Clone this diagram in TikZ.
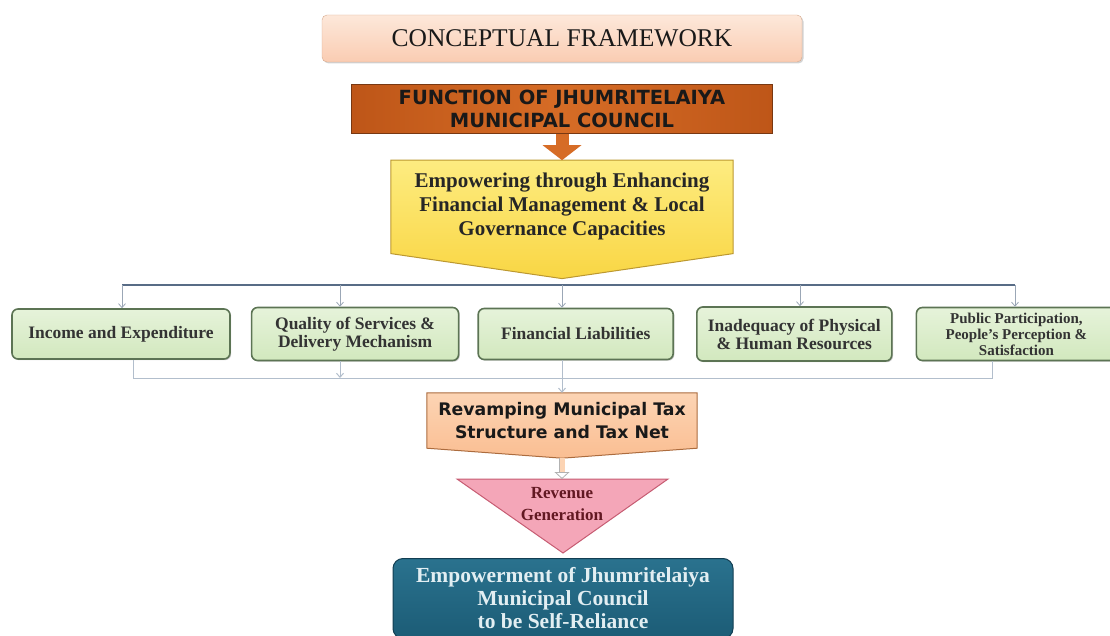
\documentclass[tikz,border=0pt]{standalone}
\usepackage{fontspec}
\setmainfont{Liberation Serif}
\setsansfont{DejaVu Sans}
\usepackage{xcolor}
\definecolor{colPeach}{RGB}{250, 204, 178}
\definecolor{colPeachLight}{RGB}{253, 232, 218}
\definecolor{colPeachBorder}{RGB}{214, 170, 142}
\definecolor{colOrange}{RGB}{214, 108, 38}
\definecolor{colOrangeDark}{RGB}{190, 86, 24}
\definecolor{colOrangeBorder}{RGB}{120, 56, 18}
\definecolor{colYellow}{RGB}{249, 214, 68}
\definecolor{colYellowLight}{RGB}{253, 236, 128}
\definecolor{colYellowBorder}{RGB}{188, 152, 48}
\definecolor{colGreen}{RGB}{210, 232, 190}
\definecolor{colGreenLight}{RGB}{230, 243, 218}
\definecolor{colGreenBorder}{RGB}{92, 116, 84}
\definecolor{colTax}{RGB}{250, 190, 146}
\definecolor{colTaxLight}{RGB}{252, 212, 180}
\definecolor{colTaxBorder}{RGB}{172, 108, 62}
\definecolor{colPink}{RGB}{244, 166, 184}
\definecolor{colPinkBorder}{RGB}{198, 92, 114}
\definecolor{colMaroon}{RGB}{98, 24, 34}
\definecolor{colTeal}{RGB}{28, 92, 118}
\definecolor{colTealLight}{RGB}{42, 114, 142}
\definecolor{colTealBorder}{RGB}{18, 62, 82}
\definecolor{colTealText}{RGB}{226, 238, 242}
\definecolor{colBus}{RGB}{88, 108, 134}
\definecolor{colLink}{RGB}{178, 190, 204}
\usepackage{tikz}
\usetikzlibrary{positioning, arrows.meta, backgrounds, calc, shadows}

\begin{document}
\begin{tikzpicture}[x=1pt, y=1pt,
		title/.style={rectangle, rounded corners=5pt, draw=colPeachBorder,
			top color=colPeachLight, bottom color=colPeach,
			minimum width=480pt, minimum height=47pt, text=black!90,
			font=\fontsize{25.5}{28}\selectfont,
			drop shadow={shadow xshift=1.5pt, shadow yshift=-1.5pt, opacity=0.35}},
		func/.style={rectangle, draw=colOrangeBorder, line width=1pt,
			left color=colOrangeDark, right color=colOrangeDark, middle color=colOrange,
			minimum width=421pt, minimum height=49pt, align=center, text=black!90,
			font=\sffamily\bfseries\fontsize{19.5}{23}\selectfont},
		hub/.style={minimum width=342pt, minimum height=93pt, align=center,
			text=black!85, font=\bfseries\fontsize{21}{24}\selectfont},
		hubshape/.style={draw=colYellowBorder, line width=1pt,
			top color=colYellowLight, bottom color=colYellow},
		factor/.style={rectangle, rounded corners=6pt, draw=colGreenBorder, line width=1.6pt,
			top color=colGreenLight, bottom color=colGreen, align=center, text=black!80,
			font=\bfseries\fontsize{17.5}{18}\selectfont,
			drop shadow={shadow xshift=1.2pt, shadow yshift=-1.2pt, opacity=0.4}},
		tax/.style={minimum width=270pt, minimum height=55pt, align=center,
			text=black!90, font=\sffamily\bfseries\fontsize{17.3}{23}\selectfont},
		taxshape/.style={draw=colTaxBorder, line width=1pt,
			top color=colTaxLight, bottom color=colTax},
		revshape/.style={draw=colPinkBorder, line width=1pt, fill=colPink},
		revtext/.style={align=center, text=colMaroon,
			font=\bfseries\fontsize{17}{22}\selectfont},
		goal/.style={rectangle, rounded corners=10pt, draw=colTealBorder, line width=1pt,
			top color=colTealLight, bottom color=colTeal,
			minimum width=340pt, minimum height=80pt, align=center, text=colTealText,
			font=\bfseries\fontsize{21.5}{23}\selectfont},
		arr/.style={line width=13pt, colOrange, -{Triangle[width=38pt, length=15pt]}},
		bus/.style={line width=1.2pt, colBus},
		drop/.style={line width=0.8pt, colBus!60, -{Straight Barb[length=4pt, width=7pt]}},
		link/.style={line width=1pt, colLink},
		hollow/.style={draw=gray!60, line width=0.8pt, double=colTaxLight, double distance=5pt,
			-{Triangle[open, length=7pt, width=15pt]}}
		]
		\useasboundingbox (0,0) rectangle (1110,-636);

		% top of the chart
		\node[title] (title) at (562,-38.5) {CONCEPTUAL FRAMEWORK};
		\node[func, below=22pt of title] (func)
		{FUNCTION OF JHUMRITELAIYA\\MUNICIPAL COUNCIL};
		\node[hub, below=26pt of func] (hub)
		{Empowering through Enhancing\\Financial Management \& Local\\Governance Capacities};
		\coordinate[below=25pt of hub.south] (hubtip);

		% the five factors
		\node[factor, minimum width=218pt, minimum height=50pt] (inc) at (121,-334)
		{Income and Expenditure};
		\node[factor, minimum width=207pt, minimum height=53pt, right=20pt of inc] (qual)
		{Quality of Services \&\\Delivery Mechanism};
		\node[factor, minimum width=195pt, minimum height=51pt, right=18pt of qual] (fin)
		{Financial Liabilities};
		\node[factor, minimum width=195pt, minimum height=54pt, right=22pt of fin] (inad)
		{Inadequacy of Physical\\\& Human Resources};
		\node[factor, minimum width=200pt, minimum height=53pt, right=23pt of inad, 
			font=\bfseries\fontsize{15}{16}\selectfont] (pub)
		{Public Participation,\\People’s Perception \&\\Satisfaction};

		% lower half
		\node[tax] (tax) at (562,-420.5) {Revamping Municipal Tax\\Structure and Tax Net};
		\coordinate[below=10pt of tax.south] (taxtip);
		\coordinate (revtop) at (562,-479);
		\coordinate (revtip) at (563,-553);
		\draw[revshape] ($(revtop)+(-105,0)$) -- ($(revtop)+(106,0)$) -- (revtip) -- cycle;
		\node[revtext] (rev) at (562,-504) {Revenue\\Generation};
		\node[goal, below=5pt of revtip] (goal)
		{Empowerment of Jhumritelaiya\\Municipal Council\\to be Self-Reliance};

		\begin{scope}[on background layer]
			\draw[hubshape] (hub.north west) -- (hub.north east) -- (hub.south east)
			-- (hubtip) -- (hub.south west) -- cycle;
			\draw[taxshape] (tax.north west) -- (tax.north east) -- (tax.south east)
			-- (taxtip) -- (tax.south west) -- cycle;
		\end{scope}

		% connectors
		\draw[arr] (func.south) -- (hub.north);
		\foreach \x [count=\i] in {122,340,562,800,1015}
		\coordinate (d\i) at (\x,-285);
		\foreach \x [count=\i] in {133,340,562,992}
		\coordinate (c\i) at (\x,-378);
		\draw[bus] (d1) -- (d5);
		\foreach \i/\n in {1/inc, 2/qual, 3/fin, 4/inad, 5/pub}
		\draw[drop] (d\i) -- (d\i |- \n.north);
		\draw[link] (inc.south -| c1) -- (c1) -- (c4) -- (pub.south -| c4);
		\draw[link, -{Straight Barb[length=4pt, width=7pt]}] (qual.south -| c2) -- (c2);
		\draw[link, -{Straight Barb[length=4pt, width=7pt]}] (fin.south -| c3) -- (tax.north);
		\draw[hollow] (taxtip) -- (revtop);
	\end{tikzpicture}
\end{document}
